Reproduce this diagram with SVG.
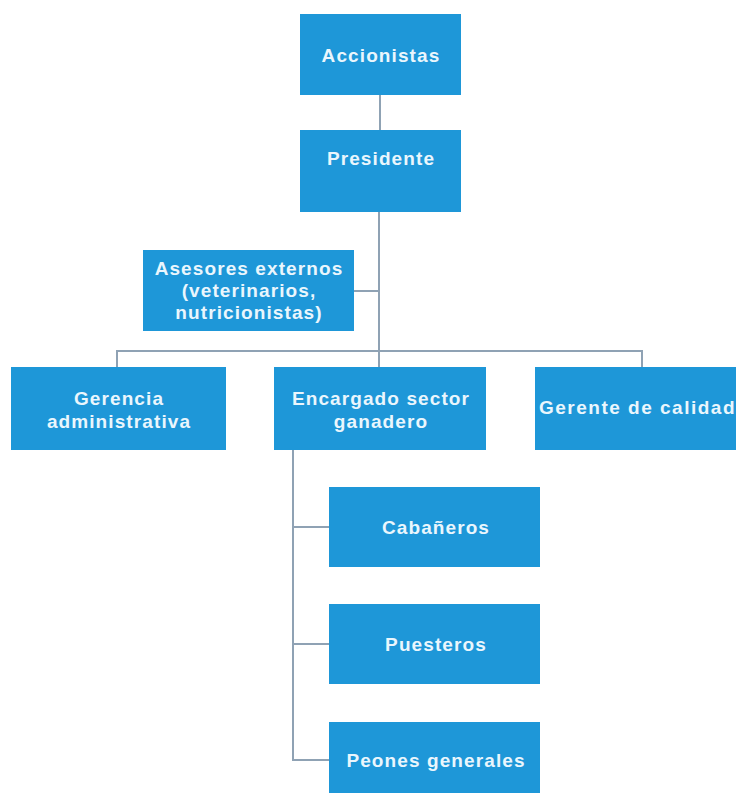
<svg xmlns="http://www.w3.org/2000/svg" width="736" height="793" viewBox="0 0 736 793">
<style>
.box{fill:#1E97D8;}
.t{font-family:"Liberation Sans",Arial,sans-serif;font-weight:700;font-size:19px;letter-spacing:1.1px;fill:#EAF6FD;text-anchor:middle;}
.c{fill:none;stroke:#8FA2B4;stroke-width:2;}
</style>
<rect width="736" height="793" fill="#FFFFFF"/>
<g id="connectors">
<line class="c" x1="380" y1="95" x2="380" y2="130"/>
<line class="c" x1="379" y1="212" x2="379" y2="367"/>
<line class="c" x1="354" y1="291" x2="379" y2="291"/>
<polyline class="c" points="117,367 117,351 642,351 642,367"/>
<polyline class="c" points="293,450 293,760 330,760"/>
<line class="c" x1="293" y1="527" x2="330" y2="527"/>
<line class="c" x1="293" y1="644" x2="330" y2="644"/>
</g>
<g id="accionistas"><rect class="box" x="300" y="14" width="161" height="81"/><text class="t" x="381" y="62">Accionistas</text></g>
<g id="presidente"><rect class="box" x="300" y="130" width="161" height="82"/><text class="t" x="381" y="165">Presidente</text></g>
<g id="asesores"><rect class="box" x="143" y="250" width="211" height="81"/>
<text class="t" x="249" y="275">Asesores externos</text>
<text class="t" x="249" y="297">(veterinarios,</text>
<text class="t" x="249" y="319">nutricionistas)</text></g>
<g id="gerencia"><rect class="box" x="11" y="367" width="215" height="83"/>
<text class="t" x="119" y="405">Gerencia</text>
<text class="t" x="119" y="428">administrativa</text></g>
<g id="encargado"><rect class="box" x="274" y="367" width="212" height="83"/>
<text class="t" x="381" y="405">Encargado sector</text>
<text class="t" x="381" y="428">ganadero</text></g>
<g id="gerente"><rect class="box" x="535" y="367" width="210" height="83"/>
<text class="t" x="539" y="414" style="text-anchor:start;letter-spacing:1.5px">Gerente de calidad</text></g>
<g id="cabaneros"><rect class="box" x="329" y="487" width="211" height="80"/><text class="t" x="436" y="534">Cabañeros</text></g>
<g id="puesteros"><rect class="box" x="329" y="604" width="211" height="80"/><text class="t" x="436" y="651">Puesteros</text></g>
<g id="peones"><rect class="box" x="329" y="722" width="211" height="80"/><text class="t" x="436" y="767">Peones generales</text></g>
</svg>
